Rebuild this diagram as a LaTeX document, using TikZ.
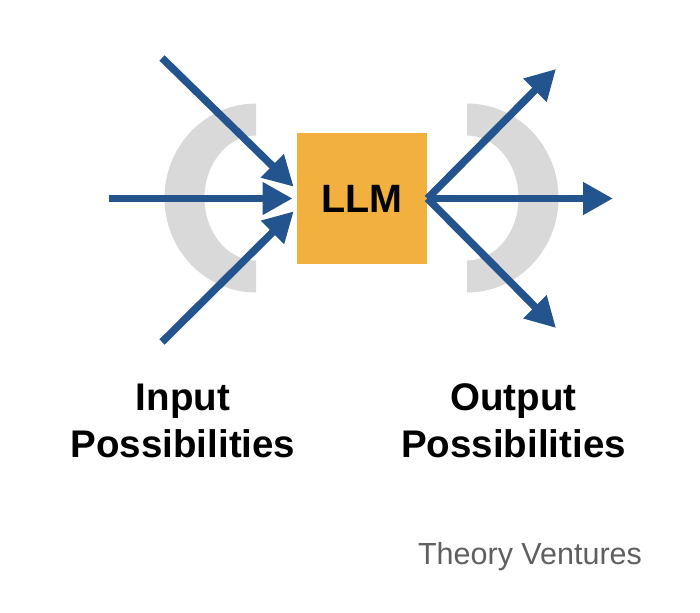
\documentclass[tikz,border=0pt]{standalone}
\usepackage{fontspec}
\setmainfont{Liberation Sans}
\usetikzlibrary{arrows.meta}
\definecolor{flowblue}{HTML}{23548E}
\definecolor{llmorange}{HTML}{F2B13E}
\definecolor{ringgray}{HTML}{D9D9D9}
\definecolor{brandgray}{HTML}{5F5F5F}
\begin{document}
\begin{tikzpicture}[x=1pt, y=-1pt,
  flow/.style={draw=flowblue, line width=7.5pt, -{Triangle[length=30pt, width=31pt]}},
  ring/.style={fill=ringgray},
  caption/.style={font=\bfseries\fontsize{38.5}{47}\selectfont, align=center, anchor=base, inner sep=0pt}]
\useasboundingbox (0,0) rectangle (700,612);
% Rings of possibilities
\fill[ring] (256,103.5) arc[start angle=270, end angle=90, x radius=91.5, y radius=94.5]
  -- ++(0,-32) arc[start angle=90, end angle=270, x radius=51.5, y radius=62.5] -- cycle;
\fill[ring] (467,103.5) arc[start angle=-90, end angle=90, x radius=91.5, y radius=94.5]
  -- ++(0,-32) arc[start angle=90, end angle=-90, x radius=51.5, y radius=62.5] -- cycle;
% The model
\node[fill=llmorange, minimum size=130.5pt, inner sep=0pt, font=\bfseries\fontsize{39.5}{40}\selectfont] (llm) at (362,198.5) {LLM};
% Free ends of the arrows
\coordinate (in1) at (162,58);
\coordinate (in2) at (109,198.5);
\coordinate (in3) at (162,342);
\coordinate (out1) at (556,69);
\coordinate (out2) at (613,198.5);
\coordinate (out3) at (556,328);
% Inputs
\draw[flow, shorten >=4pt] (in1) -- ([yshift=9pt]llm.west);
\draw[flow, shorten >=4pt] (in2) -- (llm.west);
\draw[flow, shorten >=4pt] (in3) -- ([yshift=-10pt]llm.west);
% Outputs
\draw[flow] (llm.east) -- (out1);
\draw[flow] (llm.east) -- (out2);
\draw[flow] (llm.east) -- (out3);
% Labels
\node[caption] (inlabel) at (183,457) {Input\\Possibilities};
\node[caption] (outlabel) at (513.5,457) {Output\\Possibilities};
\node[font=\fontsize{30.5}{31}\selectfont, text=brandgray, anchor=base, inner sep=0pt] (brand) at (530,564) {Theory Ventures};
\end{tikzpicture}
\end{document}
